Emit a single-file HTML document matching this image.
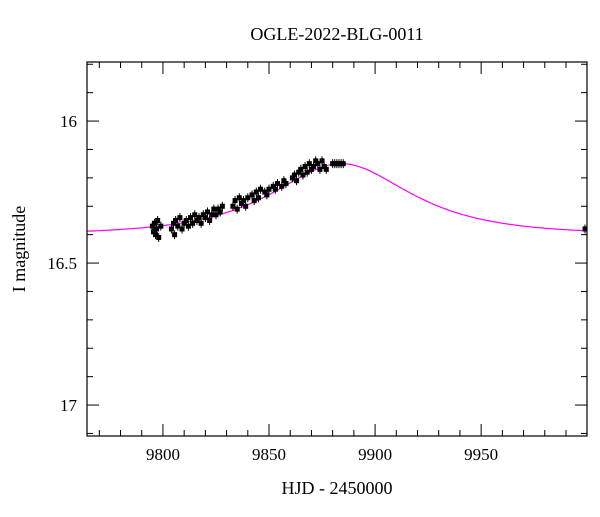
<!DOCTYPE html>
<html><head><meta charset="utf-8"><style>
body{margin:0;background:#fff}
svg text{font-family:"Liberation Serif",serif;fill:#000}
</style></head><body>
<svg width="600" height="512" id="chart">
<text x="337" y="40" font-size="18" text-anchor="middle">OGLE-2022-BLG-0011</text>
<text x="337" y="494" font-size="18" text-anchor="middle">HJD - 2450000</text>
<text transform="translate(25,249) rotate(-90)" font-size="18" text-anchor="middle">I magnitude</text>
<g id="ticks"></g>
<g id="model"></g>
<g id="points"></g>
<rect x="87" y="62" width="500" height="374" fill="none" stroke="#000" stroke-width="1.2"/>
</svg>
<script>
const xTicks=[9800,9850,9900,9950];
const yTicks=[16,16.5,17];
const times=[9795,9795.5,9796,9796.5,9797,9797.5,9798,9799,9804,9805,9805.5,9806,9807,9808,9809,9810,9811,9812,9813,9814,9815,9816,9817,9818,9819,9820,9821,9822,9823,9824,9825,9826,9827,9828,9833,9834,9835,9836,9837,9838,9839,9840,9842,9843,9844,9845,9846,9848,9849,9850,9852,9853,9854,9856,9857,9858,9861,9862,9863,9864,9865,9866,9867,9868,9869,9870,9871,9872,9873,9874,9875,9876,9877,9880,9881,9882,9883,9884,9885,9999];
const mags=[16.37,16.39,16.36,16.40,16.38,16.35,16.41,16.37,16.38,16.36,16.40,16.35,16.37,16.34,16.38,16.36,16.35,16.37,16.34,16.36,16.33,16.35,16.34,16.36,16.33,16.34,16.32,16.35,16.33,16.31,16.33,16.31,16.32,16.30,16.30,16.28,16.31,16.27,16.29,16.28,16.30,16.27,16.26,16.28,16.25,16.27,16.24,16.25,16.26,16.24,16.23,16.24,16.22,16.23,16.21,16.22,16.20,16.19,16.21,16.18,16.17,16.19,16.16,16.18,16.15,16.17,16.16,16.14,16.15,16.17,16.14,16.16,16.17,16.15,16.15,16.15,16.15,16.15,16.15,16.38];
const modelT0=9884, modelU0=0.8, modelTE=46, modelFs=0.487, modelBase=16.40;
const NS="http://www.w3.org/2000/svg";
const X0=87,X1=587,Y0=62,Y1=436;
const tMin=9764.2,tMax=9999.9,mMin=15.792,mMax=17.109;
function sx(t){return X0+(t-tMin)/(tMax-tMin)*(X1-X0);}
function sy(m){return Y0+(m-mMin)/(mMax-mMin)*(Y1-Y0);}
function mk(tag,attrs,parent){const e=document.createElementNS(NS,tag);for(const k in attrs)e.setAttribute(k,attrs[k]);parent.appendChild(e);return e;}
const tg=document.getElementById('ticks');
for(let t=9770;t<=9990;t+=10){
  const major=t%50===0, L=major?12:6;
  let l=mk('line',{x1:sx(t),x2:sx(t),y1:Y1,y2:Y1-L,stroke:'#000'},tg);
  
  
  l=mk('line',{x1:sx(t),x2:sx(t),y1:Y0,y2:Y0+L,stroke:'#000'},tg);
  
  
}
for(let i=0;i<=13;i++){
  const m=15.8+i*0.1; const major=Math.abs(m*2-Math.round(m*2))<1e-6, L=major?12:6;
  let l=mk('line',{x1:X0,x2:X0+L,y1:sy(m),y2:sy(m),stroke:'#000'},tg);
  
  
  l=mk('line',{x1:X1,x2:X1-L,y1:sy(m),y2:sy(m),stroke:'#000'},tg);
  
  
}
xTicks.forEach(t=>{const e=mk('text',{x:sx(t),y:Y1+24,'font-size':17,'text-anchor':'middle'},tg);e.textContent=t;
  
  });
yTicks.forEach(m=>{const e=mk('text',{x:X0-10,y:sy(m)+6,'font-size':17,'text-anchor':'end'},tg);e.textContent=m;
  
  });
function amp(u){return (u*u+2)/(u*Math.sqrt(u*u+4));}
let d='';
for(let t=tMin;t<=tMax;t+=0.5){const tau=(t-modelT0)/modelTE;const u=Math.sqrt(modelU0*modelU0+tau*tau);
  const m=modelBase-2.5*Math.log10(modelFs*(amp(u)-1)+1);d+=(d?'L':'M')+sx(t).toFixed(1)+','+sy(m).toFixed(1);}
const mp=mk('path',{d:d,fill:'none',stroke:'#ff00ff','stroke-width':1.2},document.getElementById('model'));


const pg=document.getElementById('points');
times.forEach((t,i)=>{const x=Math.min(sx(t),X1-2);
  const r=mk('rect',{x:x-2.5,y:sy(mags[i])-2.5,width:5,height:5,fill:'#000'},pg);
  
  
  const e=mk('line',{x1:x,x2:x,y1:sy(mags[i])-4.5,y2:sy(mags[i])+4.5,stroke:'#000'},pg);
  
  });
</script>
</body></html>
